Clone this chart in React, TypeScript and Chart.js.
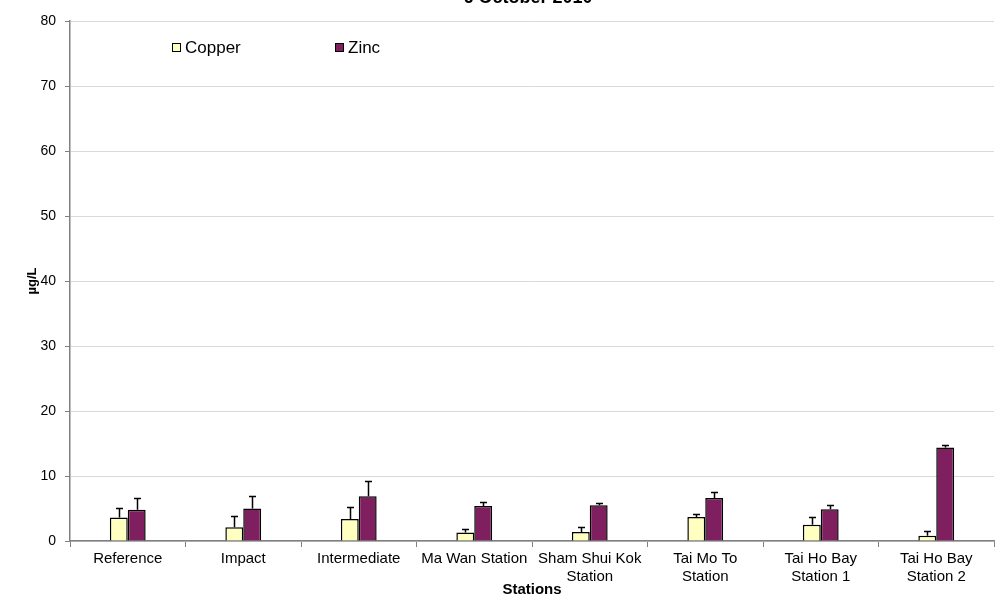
import React, { useEffect, useRef } from "react";
import { Chart, registerables } from "chart.js";

Chart.register(...registerables);

const titleText = "6 October 2010";
const stations: (string | string[])[] = [
  "Reference",
  "Impact",
  "Intermediate",
  "Ma Wan Station",
  ["Sham Shui Kok", "Station"],
  ["Tai Mo To", "Station"],
  ["Tai Ho Bay", "Station 1"],
  ["Tai Ho Bay", "Station 2"],
];
const copper = [3.6, 2.1, 3.4, 1.3, 1.4, 3.7, 2.5, 0.8];
const copperErr = [1.5, 1.8, 1.8, 0.6, 0.8, 0.5, 1.2, 0.7];
const zinc = [4.8, 5.0, 6.9, 5.4, 5.5, 6.6, 4.9, 14.4];
const zincErr = [1.8, 2.0, 2.4, 0.6, 0.4, 1.0, 0.6, 0.4];
const errors = [copperErr, zincErr];
const yTicks = [0, 10, 20, 30, 40, 50, 60, 70, 80];

const FONT = "'Liberation Sans', Arial, sans-serif";

const errorBarPlugin = {
  id: "errorBars",
  afterDatasetsDraw(chart: any) {
    const ctx = chart.ctx;
    const yScale = chart.scales.y;
    ctx.save();
    ctx.strokeStyle = "#000";
    ctx.lineWidth = 1.5;
    chart.data.datasets.forEach((ds: any, di: number) => {
      const meta = chart.getDatasetMeta(di);
      meta.data.forEach((bar: any, i: number) => {
        const v = ds.data[i];
        const e = errors[di][i];
        const x = Math.round(bar.x) + 0.5;
        const y0 = yScale.getPixelForValue(v);
        const y1 = Math.round(yScale.getPixelForValue(v + e)) + 0.5;
        ctx.beginPath();
        ctx.moveTo(x, y0);
        ctx.lineTo(x, y1);
        ctx.moveTo(x - 3.5, y1);
        ctx.lineTo(x + 3.5, y1);
        ctx.stroke();
      });
    });
    ctx.restore();
  },
};

const decorPlugin = {
  id: "decor",
  afterDraw(chart: any) {
    const ctx = chart.ctx;
    const area = chart.chartArea;
    ctx.save();
    // title (cut off at top)
    ctx.fillStyle = "#000";
    ctx.font = `bold 18px ${FONT}`;
    ctx.textAlign = "center";
    ctx.textBaseline = "alphabetic";
    ctx.fillText(titleText, (area.left + area.right) / 2 - 4, 2.5);
    // legend
    const items = [
      { label: "Copper", color: "#FFFFC0", x: 172 },
      { label: "Zinc", color: "#7F1F5F", x: 335 },
    ];
    ctx.font = `17px ${FONT}`;
    ctx.textAlign = "left";
    ctx.textBaseline = "middle";
    items.forEach((it) => {
      ctx.fillStyle = it.color;
      ctx.fillRect(it.x, 43, 8, 8);
      ctx.strokeStyle = "#000";
      ctx.lineWidth = 1;
      ctx.strokeRect(it.x + 0.5, 43.5, 8, 8);
      ctx.fillStyle = "#000";
      ctx.fillText(it.label, it.x + 13, 48);
    });
    ctx.restore();
  },
};

export default function App() {
  const ref = useRef<HTMLCanvasElement>(null);
  useEffect(() => {
    if (!ref.current) return;
    const chart = new Chart(ref.current, {
      type: "bar",
      data: {
        labels: stations,
        datasets: [
          {
            label: "Copper",
            data: copper,
            backgroundColor: "#FFFFC0",
            borderColor: "#000",
            borderWidth: 1.5,
            categoryPercentage: 0.31,
            barPercentage: 1.0,
          },
          {
            label: "Zinc",
            data: zinc,
            backgroundColor: "#7F1F5F",
            borderColor: "#000",
            borderWidth: 1.5,
            categoryPercentage: 0.31,
            barPercentage: 1.0,
          },
        ],
      },
      plugins: [errorBarPlugin, decorPlugin],
      options: {
        animation: false,
        responsive: false,
        maintainAspectRatio: false,
        layout: { padding: { top: 21, right: 1, left: 25, bottom: 0 } },
        plugins: {
          legend: { display: false },
          title: { display: false },
          tooltip: { enabled: false },
        },
        scales: {
          x: {
            grid: {
              offset: true,
              drawOnChartArea: false,
              tickLength: 6,
              color: "#808080",
            },
            border: { color: "#808080", width: 1.5 },
            ticks: {
              color: "#000",
              font: { family: FONT, size: 15, lineHeight: 1.2 },
              padding: 3,
              maxRotation: 0,
              autoSkip: false,
            },
            title: {
              display: true,
              text: "Stations",
              color: "#000",
              font: { family: FONT, size: 15, weight: "bold" },
              padding: { top: 0, bottom: -5 },
            },
            afterFit: (scale: any) => {
              scale.height = 53;
            },
          },
          y: {
            min: 0,
            max: 80,
            afterBuildTicks: (scale: any) => {
              scale.ticks = yTicks.map((v) => ({ value: v }));
            },
            grid: {
              color: "#d9d9d9",
              tickColor: "#808080",
              tickLength: 5,
            },
            border: { color: "#808080", width: 1.5 },
            ticks: {
              color: "#000",
              font: { family: FONT, size: 14 },
              padding: 9,
            },
            title: {
              display: true,
              text: "µg/L",
              color: "#000",
              font: { family: FONT, size: 13, weight: "bold" },
              padding: 0,
            },
            afterFit: (scale: any) => {
              scale.width = 45;
            },
          },
        },
      },
    });
    return () => chart.destroy();
  }, []);
  return (
    <div style={{ position: "fixed", left: 0, top: 0, width: 995, height: 594, background: "#fff" }}>
      <canvas ref={ref} width={995} height={594} style={{ display: "block" }} />
    </div>
  );
}
